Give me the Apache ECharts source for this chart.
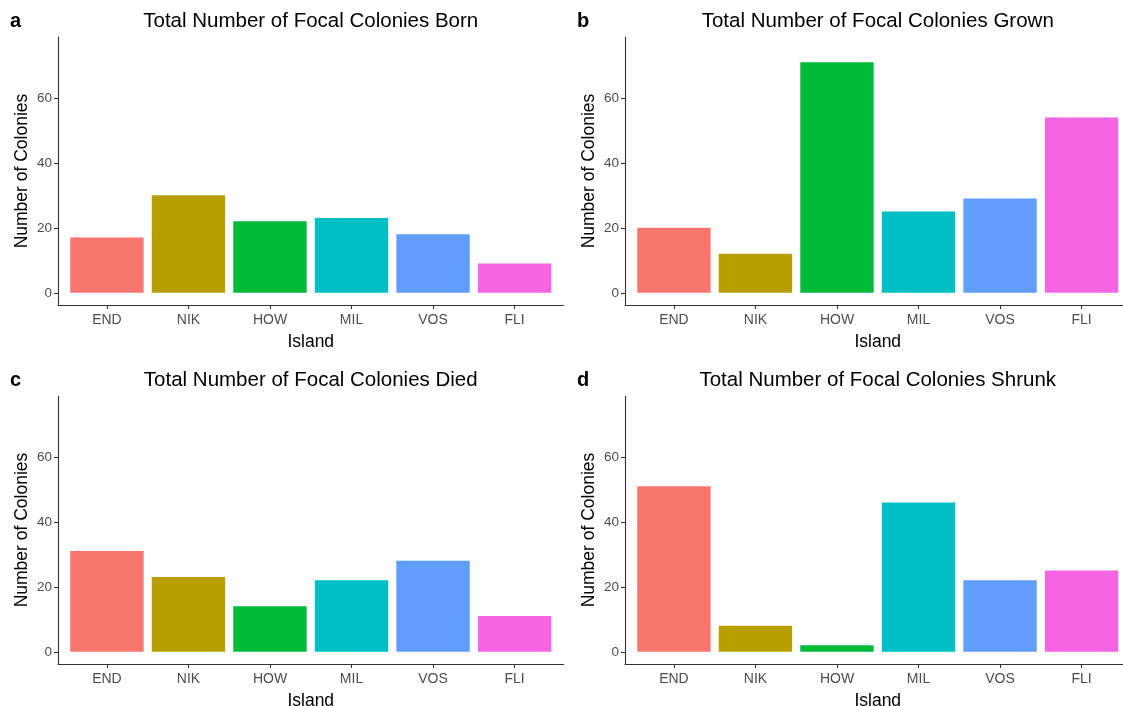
<!DOCTYPE html>
<html><head><meta charset="utf-8">
<script src="https://cdn.jsdelivr.net/npm/echarts@6/dist/echarts.min.js"></script>
<style>html,body{margin:0;padding:0;background:#fff}#c{width:1123px;height:706px}</style>
</head><body><div id="c"></div>
<script>
const islands = ['END','NIK','HOW','MIL','VOS','FLI'];
const colors = ['#F8766D','#B79F00','#00BA38','#00BFC4','#619CFF','#F564E3'];
const born = [17,30,22,23,18,9];
const grown = [20,12,71,25,29,54];
const died = [31,23,14,22,28,11];
const shrunk = [51,8,2,46,22,25];
const yTicks = [0,20,40,60];
const panels = [
  {tag:'a', title:'Total Number of Focal Colonies Born', data:born, left:58, top:37},
  {tag:'b', title:'Total Number of Focal Colonies Grown', data:grown, left:625, top:37},
  {tag:'c', title:'Total Number of Focal Colonies Died', data:died, left:58, top:396},
  {tag:'d', title:'Total Number of Focal Colonies Shrunk', data:shrunk, left:625, top:396}
];
const W = 505.5, H = 268, unit = W/6.2, pad = 0.6*unit - unit/2;
const FONT = 'Liberation Sans, Arial, sans-serif';
const xIdx = islands.map((_,k)=>k);
const grid=[], xAxis=[], yAxis=[], series=[], title=[];
panels.forEach((p,i)=>{
  grid.push({left:p.left, top:p.top, width:W, height:H, outerBoundsMode:'none', containLabel:false});
  grid.push({left:p.left+pad, top:p.top, width:W-2*pad, height:H, outerBoundsMode:'none', containLabel:false});
  const go = 2*i, gi = 2*i+1;
  // outer axis: line, ticks and island labels at category centres
  xAxis.push({gridIndex:go, type:'value', min:-0.6, max:islands.length-0.4,
    axisLine:{show:true, onZero:false, lineStyle:{color:'#333', width:1.1}},
    axisTick:{show:true, length:4, customValues:xIdx, lineStyle:{color:'#333', width:1.1}},
    axisLabel:{show:true, customValues:xIdx, formatter:v=>islands[Math.round(v)], color:'#4D4D4D', fontSize:14, fontFamily:FONT, margin:8},
    splitLine:{show:false},
    name:'Island', nameLocation:'middle', nameGap:28, nameTextStyle:{color:'#000', fontSize:17.5, fontFamily:FONT}});
  yAxis.push({gridIndex:go, type:'value', min:0, max:1, show:false});
  // inner axis: category bands for the bars
  xAxis.push({gridIndex:gi, type:'category', data:islands, show:false});
  yAxis.push({gridIndex:gi, type:'value', min:-3.75, max:78.75, offset:pad,
    axisLine:{show:true, onZero:false, lineStyle:{color:'#333', width:1.1}},
    axisTick:{show:true, length:4, customValues:yTicks, lineStyle:{color:'#333', width:1.1}},
    axisLabel:{color:'#4D4D4D', fontSize:13.5, fontFamily:FONT, margin:6, customValues:yTicks},
    splitLine:{show:false},
    name:'Number of Colonies', nameLocation:'middle', nameGap:27, nameTextStyle:{color:'#000', fontSize:17.5, fontFamily:FONT}});
  series.push({type:'bar', xAxisIndex:gi, yAxisIndex:gi, barCategoryGap:'10%',
    data:p.data.map((v,k)=>({value:v, itemStyle:{color:colors[k]}})), silent:true});
  title.push({text:p.title, left:p.left+W/2, top:p.top-26, textAlign:'center', padding:0,
    textStyle:{fontSize:20.5, fontWeight:'normal', color:'#000', fontFamily:FONT}});
  title.push({text:p.tag, left:p.left-48, top:p.top-26, padding:0,
    textStyle:{fontSize:20, fontWeight:'bold', color:'#000', fontFamily:FONT}});
});
const chart = echarts.init(document.getElementById('c'), null, {renderer:'canvas'});
chart.setOption({animation:false, backgroundColor:'#fff', title, grid, xAxis, yAxis, series});
</script></body></html>
